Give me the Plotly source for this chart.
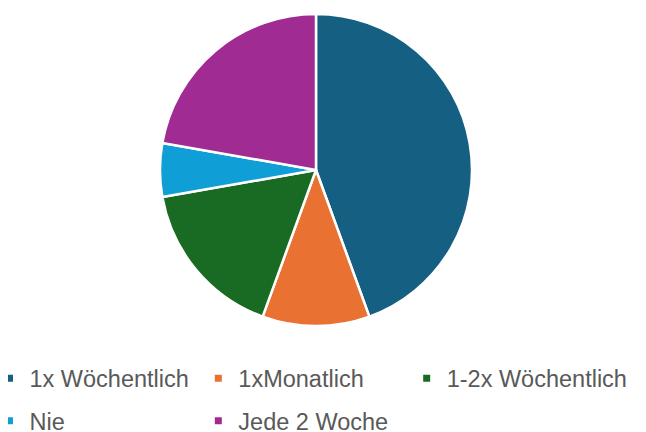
import plotly.graph_objects as go

labels = ["1x Wöchentlich", "1xMonatlich", "1-2x Wöchentlich", "Nie", "Jede 2 Woche"]
counts = [8, 2, 3, 1, 4]
colors = ["#156082", "#E97132", "#196B24", "#0F9ED5", "#A02B93"]

# legend grid: three columns, two rows (paper coords)
legend_cols = [-0.029, 0.2983, 0.6249]
legend_rows = [-0.1435, -0.2747]

fig = go.Figure()
fig.add_trace(
    go.Pie(labels=labels, values=counts, sort=False, direction="clockwise", rotation=0,
           textinfo="none", hoverinfo="label+value+percent", showlegend=False,
           marker=dict(colors=colors, line=dict(color="white", width=2.5)),
           domain=dict(x=[0.2382, 0.7273], y=[0.0185, 0.9815]))
)

legend_font = dict(family="Liberation Sans, Arial", size=23.5, color="#595959")
legends = {}
for i, (lab, col) in enumerate(zip(labels, colors)):
    key = "legend" if i == 0 else f"legend{i + 1}"
    fig.add_trace(
        go.Scatter(x=[None], y=[None], mode="markers", name=lab,
                   marker=dict(symbol="square", size=7, color=col),
                   legend=key, hoverinfo="skip")
    )
    legends[key] = dict(
        orientation="h", x=legend_cols[i % 3], y=legend_rows[i // 3],
        xanchor="left", yanchor="middle", font=legend_font,
        bgcolor="rgba(0,0,0,0)",
    )

fig.update_layout(
    # page body has an 8px margin, so the figure is a bit smaller than the window
    width=638, height=424,
    margin=dict(l=0, r=0, t=0, b=100, autoexpand=False),
    paper_bgcolor="white",
    plot_bgcolor="white",
    xaxis=dict(visible=False),
    yaxis=dict(visible=False),
    showlegend=True,
    **legends,
)

fig.write_html("out.html")
